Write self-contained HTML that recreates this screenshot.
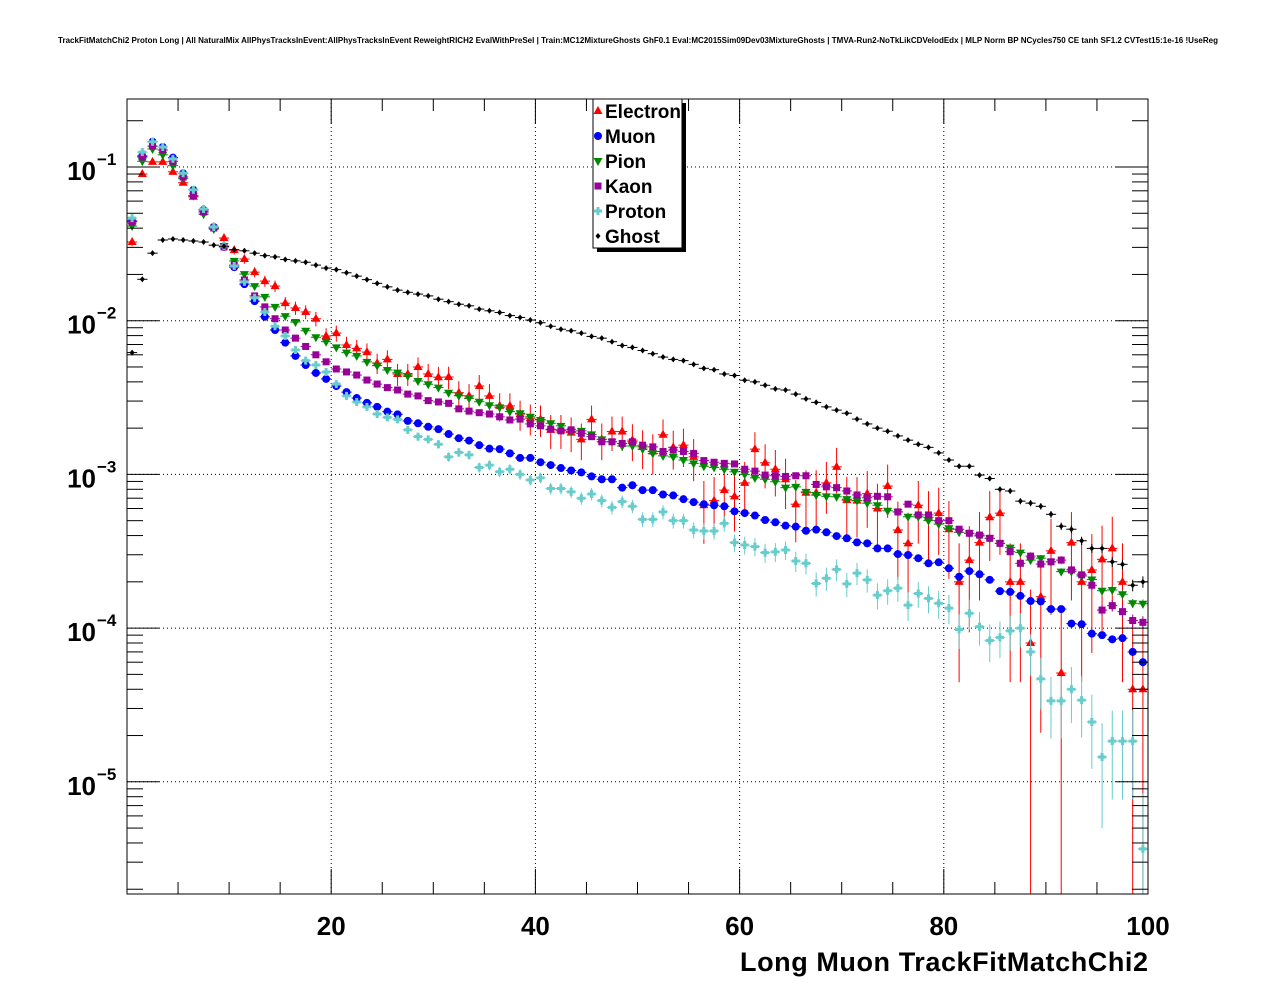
<!DOCTYPE html>
<html><head><meta charset="utf-8">
<style>
html,body{margin:0;padding:0;background:#fff;}
svg{display:block;font-family:"Liberation Sans",Arial,sans-serif;}
</style></head>
<body>
<svg id="chart" width="1276" height="996" viewBox="0 0 1276 996" xmlns="http://www.w3.org/2000/svg">
<rect x="0" y="0" width="1276" height="996" fill="#fff"/>
<text x="638" y="43" font-size="8" font-weight="bold" text-anchor="middle" fill="#000" textLength="1160">TrackFitMatchChi2 Proton Long | All NaturalMix AllPhysTracksInEvent:AllPhysTracksInEvent ReweightRICH2 EvalWithPreSel | Train:MC12MixtureGhosts GhF0.1 Eval:MC2015Sim09Dev03MixtureGhosts | TMVA-Run2-NoTkLikCDVelodEdx | MLP Norm BP NCycles750 CE tanh SF1.2 CVTest15:1e-16 !UseReg</text>
<g id="grid"></g>
<g id="series"></g>
<rect x="127" y="99" width="1021" height="795" fill="none" stroke="#000" stroke-width="1"/>
<g id="axes"></g>
<text x="1148" y="971" font-size="27" font-weight="bold" text-anchor="end" fill="#000" textLength="408">Long Muon TrackFitMatchChi2</text>
<g id="legend"></g>
</svg>
<script>
const electron=[3.25e-2,9.0e-2,1.08e-1,1.08e-1,9.3e-2,7.9e-2,6.4e-2,5.1e-2,4.07e-2,3.45e-2,2.88e-2,2.52e-2,2.07e-2,1.81e-2,1.68e-2,1.3e-2,1.21e-2,1.14e-2,1.03e-2,7.95e-3,8.3e-3,6.95e-3,6.6e-3,6.25e-3,5.3e-3,5.6e-3,4.5e-3,4.5e-3,5.0e-3,4.5e-3,4.29e-3,4.3e-3,3.4e-3,3.24e-3,3.76e-3,3.24e-3,2.79e-3,2.79e-3,2.47e-3,2.32e-3,2.28e-3,1.95e-3,1.95e-3,1.87e-3,1.69e-3,2.28e-3,1.69e-3,1.9e-3,1.9e-3,1.67e-3,1.51e-3,1.41e-3,1.81e-3,1.5e-3,1.55e-3,1.3e-3,6.3e-4,6.75e-4,7.9e-4,7.2e-4,8.8e-4,1.46e-3,1.19e-3,1.08e-3,9.3e-4,6.4e-4,7.6e-4,7.6e-4,8.8e-4,1.12e-3,6.8e-4,6.75e-4,7.5e-4,6.0e-4,8.4e-4,4.35e-4,3.56e-4,6.3e-4,5.26e-4,5.6e-4,4.4e-4,2.0e-4,2.77e-4,3.6e-4,5.26e-4,5.6e-4,2.0e-4,2.0e-4,8.0e-5,1.6e-4,3.18e-4,5.1e-5,3.6e-4,2.0e-4,2.39e-4,2.8e-4,3.3e-4,2.0e-4,4.0e-5,4.0e-5];
const muon=[4.46e-2,1.18e-1,1.46e-1,1.35e-1,1.15e-1,9.1e-2,7.1e-2,5.25e-2,4.07e-2,3.02e-2,2.23e-2,1.73e-2,1.34e-2,1.06e-2,8.7e-3,7.2e-3,5.9e-3,5.15e-3,4.57e-3,4.18e-3,3.76e-3,3.43e-3,3.14e-3,2.92e-3,2.75e-3,2.56e-3,2.46e-3,2.23e-3,2.15e-3,2.04e-3,1.97e-3,1.83e-3,1.72e-3,1.66e-3,1.55e-3,1.47e-3,1.46e-3,1.37e-3,1.28e-3,1.28e-3,1.2e-3,1.15e-3,1.1e-3,1.06e-3,1.03e-3,9.7e-4,9.3e-4,9.3e-4,8.2e-4,8.5e-4,7.9e-4,7.9e-4,7.4e-4,7.3e-4,6.9e-4,6.6e-4,6.4e-4,6.3e-4,6.2e-4,5.75e-4,5.6e-4,5.4e-4,5.05e-4,4.88e-4,4.64e-4,4.57e-4,4.3e-4,4.37e-4,4.2e-4,3.97e-4,3.84e-4,3.61e-4,3.56e-4,3.3e-4,3.3e-4,3.03e-4,2.99e-4,2.85e-4,2.64e-4,2.68e-4,2.45e-4,2.16e-4,2.35e-4,2.24e-4,2.06e-4,1.74e-4,1.72e-4,1.62e-4,1.5e-4,1.49e-4,1.33e-4,1.33e-4,1.07e-4,1.06e-4,9.2e-5,9.0e-5,8.45e-5,8.6e-5,7.0e-5,6.0e-5];
const pion=[4.13e-2,1.09e-1,1.31e-1,1.2e-1,1.02e-1,8.4e-2,6.5e-2,4.94e-2,3.95e-2,3.06e-2,2.45e-2,2.01e-2,1.68e-2,1.43e-2,1.23e-2,1.07e-2,9.8e-3,8.6e-3,7.8e-3,7.3e-3,6.7e-3,6.2e-3,5.9e-3,5.4e-3,5.1e-3,4.78e-3,4.59e-3,4.37e-3,4.05e-3,3.86e-3,3.67e-3,3.4e-3,3.25e-3,3.13e-3,2.97e-3,2.82e-3,2.73e-3,2.56e-3,2.5e-3,2.37e-3,2.26e-3,2.15e-3,2.07e-3,1.9e-3,1.92e-3,1.82e-3,1.69e-3,1.63e-3,1.53e-3,1.53e-3,1.46e-3,1.37e-3,1.32e-3,1.3e-3,1.24e-3,1.18e-3,1.13e-3,1.11e-3,1.08e-3,1.04e-3,1.0e-3,9.5e-4,9.3e-4,8.96e-4,8.2e-4,8.3e-4,7.7e-4,7.35e-4,7.2e-4,7.15e-4,6.9e-4,6.75e-4,6.5e-4,6.3e-4,5.8e-4,5.7e-4,5.3e-4,5.3e-4,5.0e-4,4.75e-4,4.46e-4,4.2e-4,4.14e-4,3.97e-4,3.84e-4,3.56e-4,3.34e-4,3.1e-4,2.77e-4,2.85e-4,2.7e-4,2.33e-4,2.33e-4,2.18e-4,2.07e-4,1.75e-4,1.77e-4,1.66e-4,1.45e-4,1.44e-4];
const kaon=[4.39e-2,1.16e-1,1.37e-1,1.29e-1,1.09e-1,8.6e-2,6.5e-2,5.1e-2,4.01e-2,3.02e-2,2.3e-2,1.84e-2,1.45e-2,1.23e-2,1.03e-2,8.7e-3,7.7e-3,6.8e-3,6.0e-3,5.4e-3,4.85e-3,4.64e-3,4.43e-3,4.11e-3,3.87e-3,3.67e-3,3.54e-3,3.33e-3,3.24e-3,3.02e-3,2.96e-3,2.9e-3,2.67e-3,2.58e-3,2.52e-3,2.47e-3,2.37e-3,2.26e-3,2.29e-3,2.13e-3,2.07e-3,1.97e-3,1.92e-3,1.95e-3,1.85e-3,1.76e-3,1.63e-3,1.63e-3,1.59e-3,1.63e-3,1.55e-3,1.51e-3,1.41e-3,1.44e-3,1.41e-3,1.37e-3,1.23e-3,1.2e-3,1.18e-3,1.17e-3,1.08e-3,1.05e-3,9.9e-4,9.8e-4,9.7e-4,9.8e-4,9.8e-4,8.6e-4,8.3e-4,8.2e-4,7.8e-4,7.35e-4,7.05e-4,7.2e-4,7.15e-4,5.7e-4,6.4e-4,5.45e-4,5.45e-4,5.0e-4,5.0e-4,4.4e-4,4.14e-4,4.03e-4,3.84e-4,3.56e-4,3.14e-4,2.64e-4,2.94e-4,2.61e-4,2.7e-4,2.77e-4,2.39e-4,2.22e-4,1.9e-4,1.31e-4,1.4e-4,1.28e-4,1.12e-4,1.09e-4];
const proton=[4.65e-2,1.25e-1,1.46e-1,1.35e-1,1.13e-1,9.1e-2,7.1e-2,5.33e-2,4.07e-2,3.06e-2,2.27e-2,1.79e-2,1.41e-2,1.14e-2,9.2e-3,7.95e-3,6.45e-3,5.5e-3,5.15e-3,4.64e-3,3.87e-3,3.24e-3,2.96e-3,2.75e-3,2.47e-3,2.35e-3,2.28e-3,1.95e-3,1.76e-3,1.69e-3,1.57e-3,1.3e-3,1.39e-3,1.34e-3,1.11e-3,1.15e-3,1.04e-3,1.08e-3,1.0e-3,9.2e-4,9.5e-4,8.1e-4,8.1e-4,7.7e-4,7.0e-4,7.45e-4,6.75e-4,6.1e-4,6.65e-4,6.2e-4,5.1e-4,5.1e-4,5.7e-4,5.0e-4,5.0e-4,4.35e-4,4.28e-4,4.28e-4,4.8e-4,3.6e-4,3.47e-4,3.39e-4,3.1e-4,3.13e-4,3.22e-4,2.73e-4,2.64e-4,1.95e-4,2.11e-4,2.41e-4,1.94e-4,2.28e-4,2.06e-4,1.64e-4,1.75e-4,1.82e-4,1.41e-4,1.68e-4,1.56e-4,1.45e-4,1.35e-4,9.8e-5,1.25e-4,1.02e-4,8.3e-5,8.7e-5,9.6e-5,1.0e-4,7.0e-5,4.67e-5,3.36e-5,3.36e-5,4.0e-5,3.4e-5,2.45e-5,1.45e-5,1.84e-5,1.84e-5,1.84e-5,3.66e-6];
const ghost=[6.2e-3,1.86e-2,2.75e-2,3.35e-2,3.4e-2,3.35e-2,3.3e-2,3.25e-2,3.1e-2,3.05e-2,2.9e-2,2.85e-2,2.75e-2,2.65e-2,2.6e-2,2.5e-2,2.45e-2,2.4e-2,2.3e-2,2.2e-2,2.15e-2,2.05e-2,1.95e-2,1.85e-2,1.75e-2,1.66e-2,1.58e-2,1.53e-2,1.49e-2,1.45e-2,1.38e-2,1.33e-2,1.28e-2,1.25e-2,1.19e-2,1.16e-2,1.13e-2,1.08e-2,1.05e-2,1.01e-2,9.7e-3,9.2e-3,8.8e-3,8.6e-3,8.3e-3,7.9e-3,7.7e-3,7.3e-3,6.9e-3,6.7e-3,6.4e-3,6.1e-3,5.8e-3,5.6e-3,5.5e-3,5.2e-3,4.9e-3,4.8e-3,4.5e-3,4.4e-3,4.1e-3,4.0e-3,3.8e-3,3.6e-3,3.54e-3,3.33e-3,3.1e-3,2.94e-3,2.75e-3,2.62e-3,2.5e-3,2.29e-3,2.13e-3,2.0e-3,1.91e-3,1.78e-3,1.67e-3,1.57e-3,1.5e-3,1.38e-3,1.24e-3,1.13e-3,1.13e-3,9.9e-4,9.4e-4,8.0e-4,7.8e-4,6.7e-4,6.5e-4,6.2e-4,5.5e-4,4.6e-4,4.4e-4,3.7e-4,3.3e-4,3.3e-4,2.7e-4,2.6e-4,1.9e-4,2.0e-4];
const xTicks=[20,40,60,80,100];
const yDecades=[-1,-2,-3,-4,-5];
const legendNames=["Electron","Muon","Pion","Kaon","Proton","Ghost"];

const NS="http://www.w3.org/2000/svg";
const X0=127,X1=1148,Y0=99,Y1=894,XMIN=0,XMAX=100;
const LOGTOP=-1+(167-99)/153.7, LOGBOT=-1-(894-167)/153.7;
function xs(v){return X0+(v-XMIN)/(XMAX-XMIN)*(X1-X0);}
function ys(v){return Y0+(LOGTOP-Math.log10(v))/(LOGTOP-LOGBOT)*(Y1-Y0);}
function mk(tag,attrs,parent){const e=document.createElementNS(NS,tag);for(const k in attrs)e.setAttribute(k,attrs[k]);parent.appendChild(e);return e;}
const grid=document.getElementById('grid'),axes=document.getElementById('axes'),ser=document.getElementById('series'),leg=document.getElementById('legend');

xTicks.forEach(t=>{if(t<XMAX){const l=mk('line',{x1:xs(t),x2:xs(t),y1:Y0,y2:Y1,stroke:'#000','stroke-width':1,'stroke-dasharray':'1,3'},grid);

}});
yDecades.forEach(d=>{const y=ys(Math.pow(10,d));const l=mk('line',{x1:X0,x2:X1,y1:y,y2:y,stroke:'#000','stroke-width':1,'stroke-dasharray':'1,3'},grid);

});

for(let v=5;v<XMAX;v+=5){const big=(v%20===0);const x=xs(v);const L=big?25:12;
mk('line',{x1:x,x2:x,y1:Y1,y2:Y1-L,stroke:'#000'},axes);
mk('line',{x1:x,x2:x,y1:Y0,y2:Y0+L,stroke:'#000'},axes);}
xTicks.forEach(t=>{const tx=mk('text',{x:xs(t),y:935,'font-size':26,'font-weight':'bold','text-anchor':'middle',fill:'#000'},axes);tx.textContent=t;

});
for(let d=-6;d<=-1;d++){for(let m=1;m<=9;m++){const v=m*Math.pow(10,d);const y=ys(v);if(y<Y0||y>Y1)continue;const L=m===1?32:16;
mk('line',{x1:X0,x2:X0+L,y1:y,y2:y,stroke:'#000'},axes);
mk('line',{x1:X1,x2:X1-L,y1:y,y2:y,stroke:'#000'},axes);}}
yDecades.forEach(d=>{const y=ys(Math.pow(10,d));const t=mk('text',{x:96,y:y+13,'font-size':26,'font-weight':'bold','text-anchor':'end',fill:'#000'},axes);t.textContent='10';


const s=mk('text',{x:97,y:y-2,'font-size':17,'font-weight':'bold',fill:'#000'},axes);s.textContent='\u2212'+(-d);

});

const styles=[
 {data:electron,col:'#ff0000',m:'tri',k:0.011},
 {data:muon,col:'#0000ff',m:'circ',k:0.0005},
 {data:pion,col:'#008800',m:'tdown',k:0.0008},
 {data:kaon,col:'#990099',m:'sq',k:0.001},
 {data:proton,col:'#66cccc',m:'cross',k:0.0025},
 {data:ghost,col:'#000000',m:'dia',k:0.0012}];
function marker(type,x,y,col,g){
 if(type==='tri')return mk('polygon',{points:`${x},${y-5} ${x-4.5},${y+3} ${x+4.5},${y+3}`,fill:col},g);
 if(type==='tdown')return mk('polygon',{points:`${x},${y+5} ${x-4.5},${y-3} ${x+4.5},${y-3}`,fill:col},g);
 if(type==='circ')return mk('circle',{cx:x,cy:y,r:4,fill:col},g);
 if(type==='sq')return mk('rect',{x:x-3.5,y:y-3.5,width:7,height:7,fill:col},g);
 if(type==='cross')return mk('path',{d:`M${x-4},${y}H${x+4}M${x},${y-4}V${y+4}`,stroke:col,'stroke-width':3},g);
 return mk('polygon',{points:`${x},${y-3} ${x-2.5},${y} ${x},${y+3} ${x+2.5},${y}`,fill:col},g);
}
styles.forEach((s,si)=>{
 const g=mk('g',{},ser);
 
 
 s.data.forEach((v,i)=>{
  if(!(v>0))return;
  const xc=xs(i+0.5),y=ys(v);
  if(y>Y1+5)return;
  const err=s.k*Math.sqrt(v);
  const ylo=Math.min(Y1,ys(Math.max(v-err,1e-9))),yhi=Math.max(Y0,ys(v+err));
  mk('line',{x1:xs(i),x2:xs(i+1),y1:y,y2:y,stroke:s.col,'stroke-width':1},g);
  mk('line',{x1:xc,x2:xc,y1:yhi,y2:ylo,stroke:s.col,'stroke-width':1},g);
  if(y<=Y1){const p=marker(s.m,xc,y,s.col,g);
  
  }
 });
});

mk('rect',{x:597,y:103,width:89,height:149,fill:'#000'},leg);
mk('rect',{x:593,y:99,width:89,height:149,fill:'#fff',stroke:'#000','stroke-width':1},leg);
legendNames.forEach((n,i)=>{const y=111+i*25;
 const e=mk('g',{},leg);
 
 
 marker(styles[i].m,598,y,styles[i].col,e);
 const t=mk('text',{x:605,y:y+7,'font-size':19,'font-weight':'bold',fill:'#000'},e);t.textContent=n;});
</script>
</body></html>
